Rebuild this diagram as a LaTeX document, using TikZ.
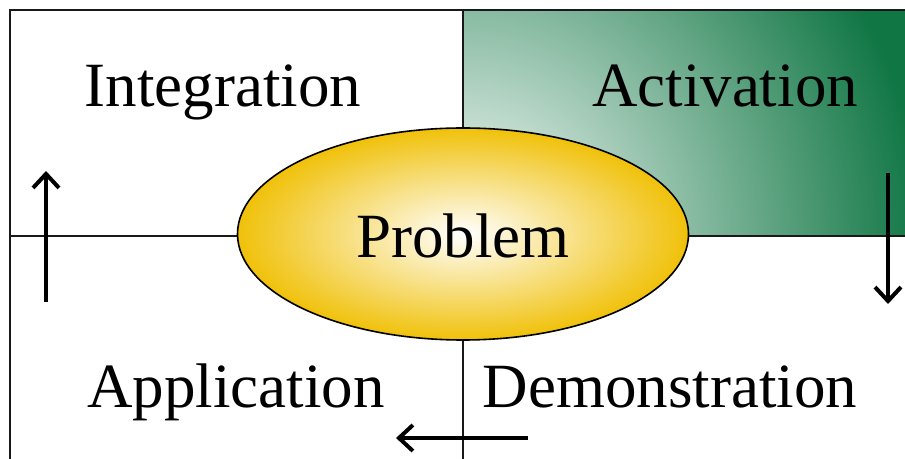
\documentclass[tikz,border=0pt]{standalone}
\usepackage{fontspec}
\setmainfont{Liberation Serif}
\usepackage{tikz}
\usetikzlibrary{arrows.meta, positioning, calc, shapes.geometric}
\definecolor{PhaseGreen}{HTML}{107644}
\definecolor{PhaseGold}{HTML}{F0C10A}
\tikzset{
  phase/.style={anchor=base, inner sep=0pt, font=\fontsize{31.5}{36}\selectfont},
  divider/.style={line width=1pt, black!90},
  cycle/.style={line width=2pt, -{Straight Barb[length=7pt, width=13pt, line width=2pt]}}
}

\begin{document}
\begin{tikzpicture}[x=0.5pt, y=-0.5pt]
  \useasboundingbox (0,0) rectangle (905,459);
  % Activation quadrant shading
  \begin{scope}
    \clip (463,10) rectangle (905,236);
    \shade[inner color=white, outer color=PhaseGreen] (3,-220) rectangle (923,700);
  \end{scope}
  % Outer frame
  \draw[line width=1.3pt, black!90] (905,10) -- (10,10) -- (10,459);
  % Problem in the middle
  \node[ellipse, minimum width=225.5pt, minimum height=106pt, inner sep=0pt,
        draw, line width=0.8pt, inner color=white, outer color=PhaseGold] (prob) at (463,234) {};
  \node[phase] (probtxt) at (463,258) {Problem};
  % Dividers
  \coordinate (top) at (463,10);
  \coordinate (bot) at (463,459);
  \coordinate (lft) at (10,236);
  \coordinate (rgt) at (905,236);
  \draw[divider] (top) -- (prob.north);
  \draw[divider] (prob.south) -- (bot);
  \draw[divider] (lft) -- (prob.west |- lft);
  \draw[divider] (prob.east |- rgt) -- (rgt);
  % Quadrant labels
  \node[phase] (integ) at (223,107) {Integration};
  \node[phase] (activ) at (725,107) {Activation};
  \node[phase] (appl) at (236,408) {Application};
  \node[phase] (demo) at (670,408) {Demonstration};
  % Cycle arrows
  \coordinate (up0) at (46,302);
  \coordinate (up1) at (46,171);
  \coordinate (dn0) at (888,173);
  \coordinate (dn1) at (888,304);
  \coordinate (lf0) at (528,438);
  \coordinate (lf1) at (396,438);
  \draw[cycle] (up0) -- (up1);
  \draw[cycle] (dn0) -- (dn1);
  \draw[cycle] (lf0) -- (lf1);
\end{tikzpicture}
\end{document}
